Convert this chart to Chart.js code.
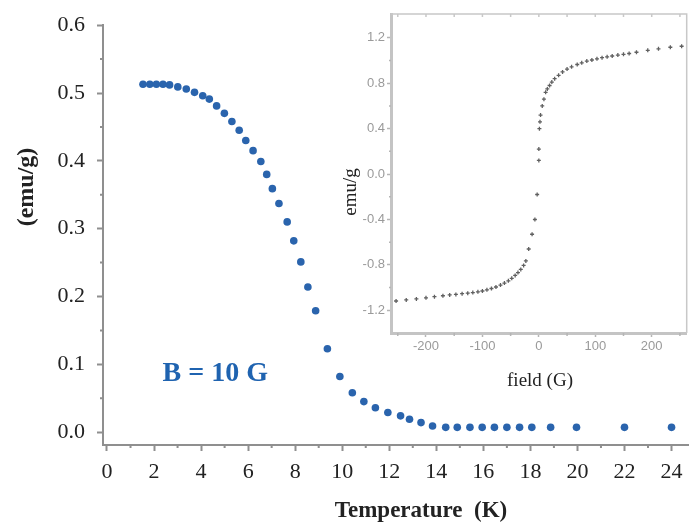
<!DOCTYPE html>
<html>
<head>
<meta charset="utf-8">
<script src="https://cdn.jsdelivr.net/npm/chart.js@4.4.0/dist/chart.umd.min.js"></script>
<style>
    html, body { margin: 0; padding: 0; background: #fff; }
    #wrap { position: relative; width: 692px; height: 525px; overflow: hidden; }
    #main { position: absolute; left: 0; top: 0; }
    #inset { position: absolute; left: 325px; top: 0; }
</style>
</head>
<body>
<div id="wrap">
    <canvas id="main" width="692" height="525"></canvas>
    <canvas id="inset" width="367" height="395"></canvas>
</div>
<script>
// Main plot: magnetization vs temperature (B = 10 G)
const temperatureK = [
    1.53, 1.82, 2.10, 2.38, 2.66, 3.01, 3.37, 3.72, 4.07, 4.35,
    4.66, 4.99, 5.31, 5.62, 5.90, 6.21, 6.54, 6.79, 7.03, 7.31,
    7.66, 7.94, 8.24, 8.54, 8.87, 9.37, 9.90, 10.43, 10.92, 11.41,
    11.94, 12.48, 12.86, 13.35, 13.84, 14.40, 14.89, 15.43, 15.95, 16.47,
    17.00, 17.54, 18.06, 18.86, 19.96, 22.0, 24.0
];
const magnetization = [
    0.513, 0.513, 0.513, 0.513, 0.512, 0.509, 0.506, 0.501, 0.496, 0.491,
    0.481, 0.470, 0.458, 0.445, 0.430, 0.415, 0.399, 0.380, 0.359, 0.337,
    0.310, 0.282, 0.251, 0.214, 0.179, 0.123, 0.082, 0.058, 0.045, 0.036,
    0.029, 0.024, 0.019, 0.014, 0.009, 0.007, 0.007, 0.007, 0.007, 0.007,
    0.007, 0.007, 0.007, 0.007, 0.007, 0.007, 0.007
];
const tempTicks = [0, 2, 4, 6, 8, 10, 12, 14, 16, 18, 20, 22, 24];
const tempMinorTicks = [1, 3, 5, 7, 9, 11, 13, 15, 17, 19, 21, 23];
const momentTicks = [0, 0.1, 0.2, 0.3, 0.4, 0.5, 0.6];
const momentMinorTicks = [0.05, 0.15, 0.25, 0.35, 0.45, 0.55];

// Inset: magnetization loop vs field
const fieldG = [
    -253, -235, -217, -200, -185, -170, -158, -147, -136, -126,
    -117, -108, -100, -92, -84, -76, -68, -61, -54, -48,
    -42, -37, -32, -27, -23, -18, -12, -7, -3, 0,
    0, 1, 2, 3, 6, 9, 12, 15, 19, 23,
    28, 35, 42, 50, 58, 68, 76, 85, 94, 103,
    112, 121, 130, 140, 150, 160, 173, 193, 212, 233,
    253
];
const loopMoment = [
    -1.118, -1.109, -1.100, -1.090, -1.080, -1.072, -1.065, -1.060, -1.054, -1.049,
    -1.044, -1.037, -1.030, -1.020, -1.008, -0.995, -0.978, -0.960, -0.940, -0.918,
    -0.893, -0.868, -0.840, -0.805, -0.765, -0.660, -0.530, -0.400, -0.180, 0.120,
    0.220, 0.400, 0.460, 0.520, 0.600, 0.660, 0.720, 0.750, 0.780, 0.810,
    0.840, 0.870, 0.900, 0.925, 0.945, 0.965, 0.980, 0.995, 1.005, 1.015,
    1.025, 1.033, 1.040, 1.048, 1.055, 1.062, 1.073, 1.090, 1.103, 1.117,
    1.126
];
const fieldTicks = [-200, -100, 0, 100, 200];
const fieldMinorTicks = [-250, -150, -50, 50, 150, 250];
const loopTicks = [-1.2, -0.8, -0.4, 0, 0.4, 0.8, 1.2];
const loopMinorTicks = [-1.0, -0.6, -0.2, 0.2, 0.6, 1.0];

const SERIF = '"Liberation Serif", "DejaVu Serif", serif';
const SANS = '"Liberation Sans", Arial, sans-serif';

function drawMinorTicks(chart, axisId, values, len, color, width) {
    const scale = chart.scales[axisId];
    const area = chart.chartArea;
    const ctx = chart.ctx;
    ctx.save();
    ctx.strokeStyle = color;
    ctx.lineWidth = width;
    ctx.beginPath();
    values.forEach(v => {
        const p = scale.getPixelForValue(v);
        if (scale.isHorizontal()) {
            ctx.moveTo(p, area.bottom);
            ctx.lineTo(p, area.bottom + len);
        } else {
            ctx.moveTo(area.left, p);
            ctx.lineTo(area.left - len, p);
        }
    });
    ctx.stroke();
    ctx.restore();
}

function drawText(ctx, text, x, y, font, color, rotate) {
    ctx.save();
    ctx.translate(x, y);
    if (rotate) ctx.rotate(-Math.PI / 2);
    ctx.font = font;
    ctx.fillStyle = color;
    ctx.textAlign = 'center';
    ctx.textBaseline = 'middle';
    ctx.fillText(text, 0, 0);
    ctx.restore();
}

const mainDecor = {
    id: 'mainDecor',
    afterDraw(chart) {
        const ctx = chart.ctx;
        drawMinorTicks(chart, 'x', tempMinorTicks, 3, '#8f8f8f', 2);
        drawMinorTicks(chart, 'y', momentMinorTicks, 3, '#8f8f8f', 2);
        drawText(ctx, '(emu/g)', 27, 187, 'bold 24px ' + SERIF, '#222', true);
        drawText(ctx, 'Temperature  (K)', 421, 511, 'bold 23px ' + SERIF, '#222', false);
        const x = chart.scales.x.getPixelForValue(4.6);
        const y = chart.scales.y.getPixelForValue(0.086);
        drawText(ctx, 'B = 10 G', x, y, 'bold 28px ' + SERIF, '#1f63b0', false);
    }
};

new Chart(document.getElementById('main'), {
    type: 'scatter',
    data: {
        datasets: [{
            data: temperatureK.map((t, i) => ({ x: t, y: magnetization[i] })),
            backgroundColor: '#2a64ad',
            borderColor: '#2a64ad',
            pointRadius: 3.8,
            pointBorderWidth: 0
        }]
    },
    options: {
        responsive: false,
        devicePixelRatio: 1,
        animation: false,
        layout: { padding: { top: 22, right: -4, left: 0, bottom: 0 } },
        plugins: { legend: { display: false }, tooltip: { enabled: false } },
        scales: {
            x: {
                type: 'linear',
                min: -0.17,
                max: 24.7,
                afterBuildTicks: s => { s.ticks = tempTicks.map(v => ({ value: v })); },
                afterFit: s => { s.height = 80; s.paddingRight = 0; },
                grid: { drawOnChartArea: false, drawTicks: true, tickLength: 6, tickColor: '#8f8f8f', tickWidth: 2 },
                border: { display: true, color: '#8f8f8f', width: 2 },
                ticks: {
                    font: { family: SERIF, size: 22 },
                    color: '#222',
                    padding: 8,
                    maxRotation: 0,
                    autoSkip: false,
                    callback: v => String(v)
                }
            },
            y: {
                type: 'linear',
                min: -0.019,
                max: 0.6,
                afterBuildTicks: s => { s.ticks = momentTicks.map(v => ({ value: v })); },
                afterFit: s => { s.width = 103; },
                grid: { drawOnChartArea: false, drawTicks: true, tickLength: 6, tickColor: '#8f8f8f', tickWidth: 2 },
                border: { display: true, color: '#8f8f8f', width: 2 },
                ticks: {
                    font: { family: SERIF, size: 22 },
                    color: '#222',
                    padding: 12,
                    callback: v => v.toFixed(1)
                }
            }
        }
    },
    plugins: [mainDecor]
});

const insetDecor = {
    id: 'insetDecor',
    afterDraw(chart) {
        const ctx = chart.ctx;
        const a = chart.chartArea;
        ctx.save();
        ctx.strokeStyle = '#c8c8c8';
        ctx.lineWidth = 1.5;
        ctx.beginPath();
        ctx.moveTo(a.left, a.top);
        ctx.lineTo(a.right, a.top);
        ctx.lineTo(a.right, a.bottom);
        ctx.stroke();
        // mirrored ticks on top edge
        ctx.beginPath();
        fieldTicks.concat(fieldMinorTicks).forEach(v => {
            const p = chart.scales.x.getPixelForValue(v);
            ctx.moveTo(p, a.top);
            ctx.lineTo(p, a.top + 3);
        });
        ctx.stroke();
        ctx.restore();
        drawMinorTicks(chart, 'x', fieldMinorTicks, 3, '#b5b5b5', 1.5);
        drawMinorTicks(chart, 'y', loopMinorTicks, 2, '#b5b5b5', 1.5);
        drawText(ctx, 'field (G)', 215, 381, '19px ' + SERIF, '#222', false);
        drawText(ctx, 'emu/g', 26, 192, '19px ' + SERIF, '#222', true);
    }
};

new Chart(document.getElementById('inset'), {
    type: 'scatter',
    data: {
        datasets: [{
            data: fieldG.map((f, i) => ({ x: f, y: loopMoment[i] })),
            pointStyle: 'cross',
            pointRadius: 2,
            borderColor: '#606060',
            pointBorderWidth: 1.3,
            backgroundColor: '#606060'
        }]
    },
    options: {
        responsive: false,
        devicePixelRatio: 1,
        animation: false,
        layout: { padding: { top: 14, right: 4, left: 0, bottom: 0 } },
        plugins: { legend: { display: false }, tooltip: { enabled: false } },
        scales: {
            x: {
                type: 'linear',
                min: -262,
                max: 262,
                afterBuildTicks: s => { s.ticks = fieldTicks.map(v => ({ value: v })); },
                afterFit: s => { s.height = 62; },
                grid: { drawOnChartArea: false, drawTicks: true, tickLength: 4, tickColor: '#b5b5b5', tickWidth: 1.5 },
                border: { display: true, color: '#c4c4c4', width: 3 },
                ticks: {
                    font: { family: SANS, size: 13 },
                    color: '#9a9a9a',
                    padding: 2,
                    maxRotation: 0,
                    autoSkip: false,
                    callback: v => String(v)
                }
            },
            y: {
                type: 'linear',
                min: -1.4,
                max: 1.41,
                afterBuildTicks: s => { s.ticks = loopTicks.map(v => ({ value: v })); },
                afterFit: s => { s.width = 66; },
                grid: { drawOnChartArea: false, drawTicks: true, tickLength: 4, tickColor: '#b5b5b5', tickWidth: 1.5 },
                border: { display: true, color: '#c4c4c4', width: 3 },
                ticks: {
                    font: { family: SANS, size: 13 },
                    color: '#9a9a9a',
                    padding: 2,
                    callback: v => v.toFixed(1)
                }
            }
        }
    },
    plugins: [insetDecor]
});
</script>
</body>
</html>
